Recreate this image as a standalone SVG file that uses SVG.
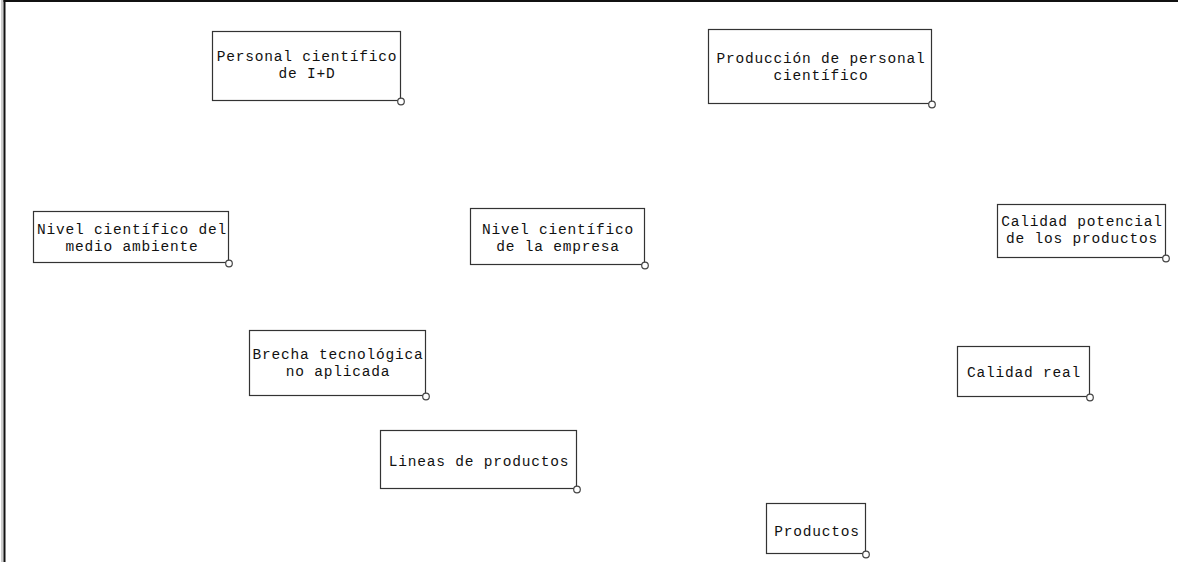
<svg xmlns="http://www.w3.org/2000/svg" width="1178" height="562" viewBox="0 0 1178 562">
<style>
.b{fill:#fff;stroke:#333;stroke-width:1.2}
.h{fill:#fff;stroke:#444;stroke-width:1.2}
text{font-family:"Liberation Mono","Courier New",monospace;font-size:14.5px;letter-spacing:0.8px;fill:#111;text-anchor:middle}
</style>
<rect x="0" y="0" width="1178" height="562" fill="#fff"/>
<rect x="1" y="0" width="2.5" height="562" fill="#ccc"/>
<line x1="4.5" y1="0" x2="4.5" y2="562" stroke="#111" stroke-width="2"/>
<line x1="3.5" y1="1" x2="1178" y2="1" stroke="#111" stroke-width="2"/>
<g id="connectors"></g>
<g id="n1"><rect class="b" x="212.5" y="31.5" width="188" height="69"/><text x="307" y="61">Personal científico</text><text x="307" y="77.5">de I+D</text><circle class="h" cx="401" cy="101.5" r="3.3"/></g>
<g id="n2"><rect class="b" x="708.5" y="29.5" width="223" height="74"/><text x="821" y="63">Producción de personal</text><text x="821" y="79.5">científico</text><circle class="h" cx="932" cy="104.5" r="3.3"/></g>
<g id="n3"><rect class="b" x="33.5" y="211.5" width="195" height="51"/><text x="132" y="234">Nivel científico del</text><text x="132" y="250.5">medio ambiente</text><circle class="h" cx="229" cy="263.5" r="3.3"/></g>
<g id="n4"><rect class="b" x="470.5" y="208.5" width="174" height="56"/><text x="558" y="234">Nivel científico</text><text x="558" y="250.5">de la empresa</text><circle class="h" cx="645" cy="265.5" r="3.3"/></g>
<g id="n5"><rect class="b" x="997.5" y="204.5" width="168" height="53"/><text x="1082" y="226">Calidad potencial</text><text x="1082" y="242.5">de los productos</text><circle class="h" cx="1166" cy="258.5" r="3.3"/></g>
<g id="n6"><rect class="b" x="249.5" y="330.5" width="176" height="65"/><text x="338" y="359">Brecha tecnológica</text><text x="338" y="375.5">no aplicada</text><circle class="h" cx="426" cy="396.5" r="3.3"/></g>
<g id="n7"><rect class="b" x="957.5" y="346.5" width="132" height="50"/><text x="1024" y="377">Calidad real</text><circle class="h" cx="1090" cy="397.5" r="3.3"/></g>
<g id="n8"><rect class="b" x="380.5" y="430.5" width="196" height="58"/><text x="479" y="466">Lineas de productos</text><circle class="h" cx="577" cy="489.5" r="3.3"/></g>
<g id="n9"><rect class="b" x="766.5" y="503.5" width="99" height="50"/><text x="817" y="536">Productos</text><circle class="h" cx="866" cy="554.5" r="3.3"/></g>
</svg>
